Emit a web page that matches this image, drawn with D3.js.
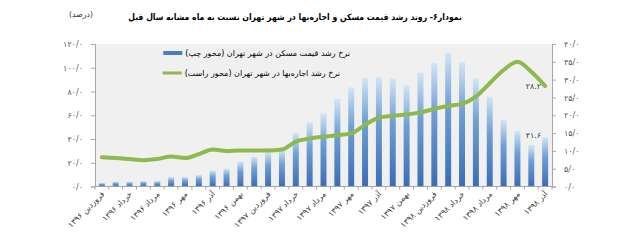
<!DOCTYPE html>
<html lang="fa">
<head>
<meta charset="UTF-8" />
<title>chart</title>
<style>
  html, body { margin: 0; padding: 0; background: #fff; }
  svg text { font-family: "DejaVu Sans", sans-serif; }
</style>
</head>
<body>
<div class="chart"></div>
<script src="https://d3js.org/d3.v7.min.js"></script>
<script>
const monthNames = ['فروردین', 'اردیبهشت', 'خرداد', 'تیر', 'مرداد', 'شهریور', 'مهر', 'آبان', 'آذر', 'دی', 'بهمن', 'اسفند']
const years = ['۱۳۹۶', '۱۳۹۷', '۱۳۹۸']

// 33 ماه: فروردین ۱۳۹۶ تا آذر ۱۳۹۸
const months = []
years.forEach(y => monthNames.forEach(m => months.push(m + ' ' + y)))
months.splice(33)

// نرخ رشد قیمت مسکن (محور چپ)
const priceGrowth = [3, 4, 4, 4.5, 4.5, 8, 8, 9.7, 13.6, 15, 21, 25, 29, 30.7, 45, 54,
  61.6, 73.7, 83.5, 91.4, 92, 90.8, 85.2, 95.8, 104, 112.7, 104.6, 91, 75.6, 56, 46.7, 35, 41.6]

// نرخ رشد اجاره‌بها (محور راست)
const rentGrowth = [8.2, 8.0, 7.7, 7.4, 7.7, 8.4, 8.0, 9.1, 10.4, 10.0, 10.1, 10.1, 10.1, 10.4, 12.6, 13.5,
  14.0, 14.4, 14.9, 17.3, 19.3, 19.8, 20.2, 20.8, 21.8, 22.6, 23.2, 25.2, 29.0, 32.7, 35.0, 32.2, 28.2]

const leftTicks = [0, 20, 40, 60, 80, 100, 120]
const rightTicks = [0, 5, 10, 15, 20, 25, 30, 35, 40]

const title = 'نمودار۶- روند رشد قیمت مسکن و اجاره‌بها در شهر تهران نسبت به ماه مشابه سال قبل'
const unitLabel = '(درصد)'
const legendBar = 'نرخ رشد قیمت مسکن در شهر تهران (محور چپ)'
const legendLine = 'نرخ رشد اجاره‌بها در شهر تهران (محور راست)'

const faDigits = s => String(s).replace(/\d/g, d => '۰۱۲۳۴۵۶۷۸۹'[d])
const tickFmt = v => faDigits(v) + '/' + '۰'
// متن راست‌به‌چپ داخل یک جاسازی RTL تا پرانتزها درست بنشینند
const rtl = s => '\u202B' + s + '\u202C'

// متن را اندازه می‌گیرد، اگر پهن‌تر از maxW بود کوچک می‌کند و لبه راستش را روی right می‌گذارد
const placeRight = (sel, right, maxW) => {
  const node = sel.node()
  let bb = node.getBBox()
  if (maxW && bb.width > maxW) {
    const fs = parseFloat(sel.style('font-size')) * maxW / bb.width
    sel.style('font-size', fs + 'px')
    bb = node.getBBox()
  }
  sel.attr('x', +sel.attr('x') + right - (bb.x + bb.width))
  return sel
}

const width = 640, height = 247
const plotLeft = 95, plotRight = 552, plotTop = 44, plotBottom = 186.5

const svg = d3.select('.chart').append('svg')
  .attr('width', width).attr('height', height)

const defs = svg.append('defs')
const grad = defs.append('linearGradient')
  .attr('id', 'barGrad').attr('x1', 0).attr('y1', 0).attr('x2', 0).attr('y2', 1)
grad.append('stop').attr('offset', '0%').attr('stop-color', '#d3e5f5')
grad.append('stop').attr('offset', '40%').attr('stop-color', '#6f9fd4')
grad.append('stop').attr('offset', '100%').attr('stop-color', '#3b6db5')

const x = d3.scaleBand().domain(months).range([plotLeft, plotRight]).paddingInner(0.57).paddingOuter(0.28)
const xc = d => x(d) + x.bandwidth() / 2
const yL = d3.scaleLinear().domain([0, 120]).range([plotBottom, plotTop])
const yR = d3.scaleLinear().domain([0, 40]).range([plotBottom, plotTop])

// پس‌زمینه ناحیه رسم
svg.append('rect')
  .attr('x', plotLeft).attr('y', plotTop)
  .attr('width', plotRight - plotLeft).attr('height', plotBottom - plotTop)
  .attr('fill', '#f0f0f0')

// عنوان
const titleText = svg.append('text')
  .attr('x', 0).attr('y', 20)
  .attr('text-anchor', 'start')
  .style('font-family', '"DejaVu Sans Condensed", "DejaVu Sans", sans-serif')
  .style('font-size', '11px').style('font-weight', 'bold')
  .style('fill', '#000')
  .text(rtl(title))
placeRight(titleText, 462, 334)

const unitText = svg.append('text')
  .attr('x', 0).attr('y', 17)
  .attr('text-anchor', 'start')
  .style('font-size', '8px').style('fill', '#333')
  .text(rtl(unitLabel))
placeRight(unitText, 93, 24)

// میله‌ها
svg.append('g')
  .selectAll('rect')
  .data(months)
  .join('rect')
  .attr('x', d => x(d))
  .attr('y', (d, i) => yL(priceGrowth[i]))
  .attr('width', x.bandwidth())
  .attr('height', (d, i) => plotBottom - yL(priceGrowth[i]))
  .attr('fill', 'url(#barGrad)')

// خط اجاره‌بها
const line = d3.line()
  .x((d, i) => xc(months[i]))
  .y(d => yR(d))
  .curve(d3.curveMonotoneX)

svg.append('path')
  .datum(rentGrowth)
  .attr('d', line)
  .attr('fill', 'none')
  .attr('stroke', '#8fb84f')
  .attr('stroke-width', 4)
  .attr('stroke-linecap', 'round')
  .attr('stroke-linejoin', 'round')

// محور چپ
const yAxisL = d3.axisLeft(yL).tickValues(leftTicks).tickSize(4).tickFormat(tickFmt)
const gL = svg.append('g').attr('transform', `translate(${plotLeft},0)`).call(yAxisL)

// محور راست
const yAxisR = d3.axisRight(yR).tickValues(rightTicks).tickSize(4).tickFormat(tickFmt)
const gR = svg.append('g').attr('transform', `translate(${plotRight},0)`).call(yAxisR)

// محور افقی
const boundaries = months.map(d => x(d) - x.step() * x.paddingInner() / 2).concat([plotRight])
const gX = svg.append('g')
gX.append('line')
  .attr('x1', plotLeft).attr('x2', plotRight)
  .attr('y1', plotBottom).attr('y2', plotBottom)
  .attr('stroke', '#a6a6a6')
gX.selectAll('.tk')
  .data(boundaries)
  .join('line')
  .attr('class', 'tk')
  .attr('x1', d => d).attr('x2', d => d)
  .attr('y1', plotBottom).attr('y2', plotBottom + 3)
  .attr('stroke', '#a6a6a6')

gX.selectAll('.lbl')
  .data(months.filter((d, i) => i % 2 === 0))
  .join('text')
  .attr('class', 'lbl')
  .attr('text-anchor', 'end')
  .attr('transform', d => `translate(${xc(d) + 3},${plotBottom + 8}) rotate(-45)`)
  .style('font-size', '8px').style('fill', '#404040')
  .text(d => rtl(d))

;[gL, gR].forEach(g => {
  g.select('.domain').attr('stroke', '#a6a6a6')
  g.selectAll('.tick line').attr('stroke', '#a6a6a6')
  g.selectAll('.tick text')
    .style('font-size', '8px')
    .style('font-family', '"DejaVu Sans", sans-serif')
    .style('fill', '#595959')
})
gL.selectAll('.tick text').attr('x', -12)
gR.selectAll('.tick text').attr('x', 12)

// برچسب‌های داده
const last = months.length - 1
svg.append('text')
  .attr('x', xc(months[last]) - 4).attr('y', yR(rentGrowth[last]) + 3)
  .attr('text-anchor', 'end')
  .style('font-size', '8px').style('fill', '#404040')
  .text(faDigits(rentGrowth[last]))

svg.append('text')
  .attr('x', xc(months[last]) - 4).attr('y', yL(priceGrowth[last]) + 1)
  .attr('text-anchor', 'end')
  .style('font-size', '8px').style('fill', '#404040')
  .text(faDigits(priceGrowth[last]))

// راهنما
const legend = svg.append('g')
const lt1 = legend.append('text')
  .attr('x', 0).attr('y', 56)
  .style('font-size', '8px').style('fill', '#000')
  .text(rtl(legendBar))
placeRight(lt1, 350, 170)
const lt2 = legend.append('text')
  .attr('x', 0).attr('y', 76)
  .style('font-size', '8px').style('fill', '#000')
  .text(rtl(legendLine))
placeRight(lt2, 340, 170)
const b1 = lt1.node().getBBox()
const b2 = lt2.node().getBBox()
legend.append('rect')
  .attr('x', b1.x - 22).attr('y', 51).attr('width', 19).attr('height', 4)
  .attr('fill', '#4a7cc0')
legend.append('line')
  .attr('x1', b2.x - 22).attr('x2', b2.x - 3).attr('y1', 73).attr('y2', 73)
  .attr('stroke', '#8fb84f').attr('stroke-width', 3)
</script>
</body>
</html>
